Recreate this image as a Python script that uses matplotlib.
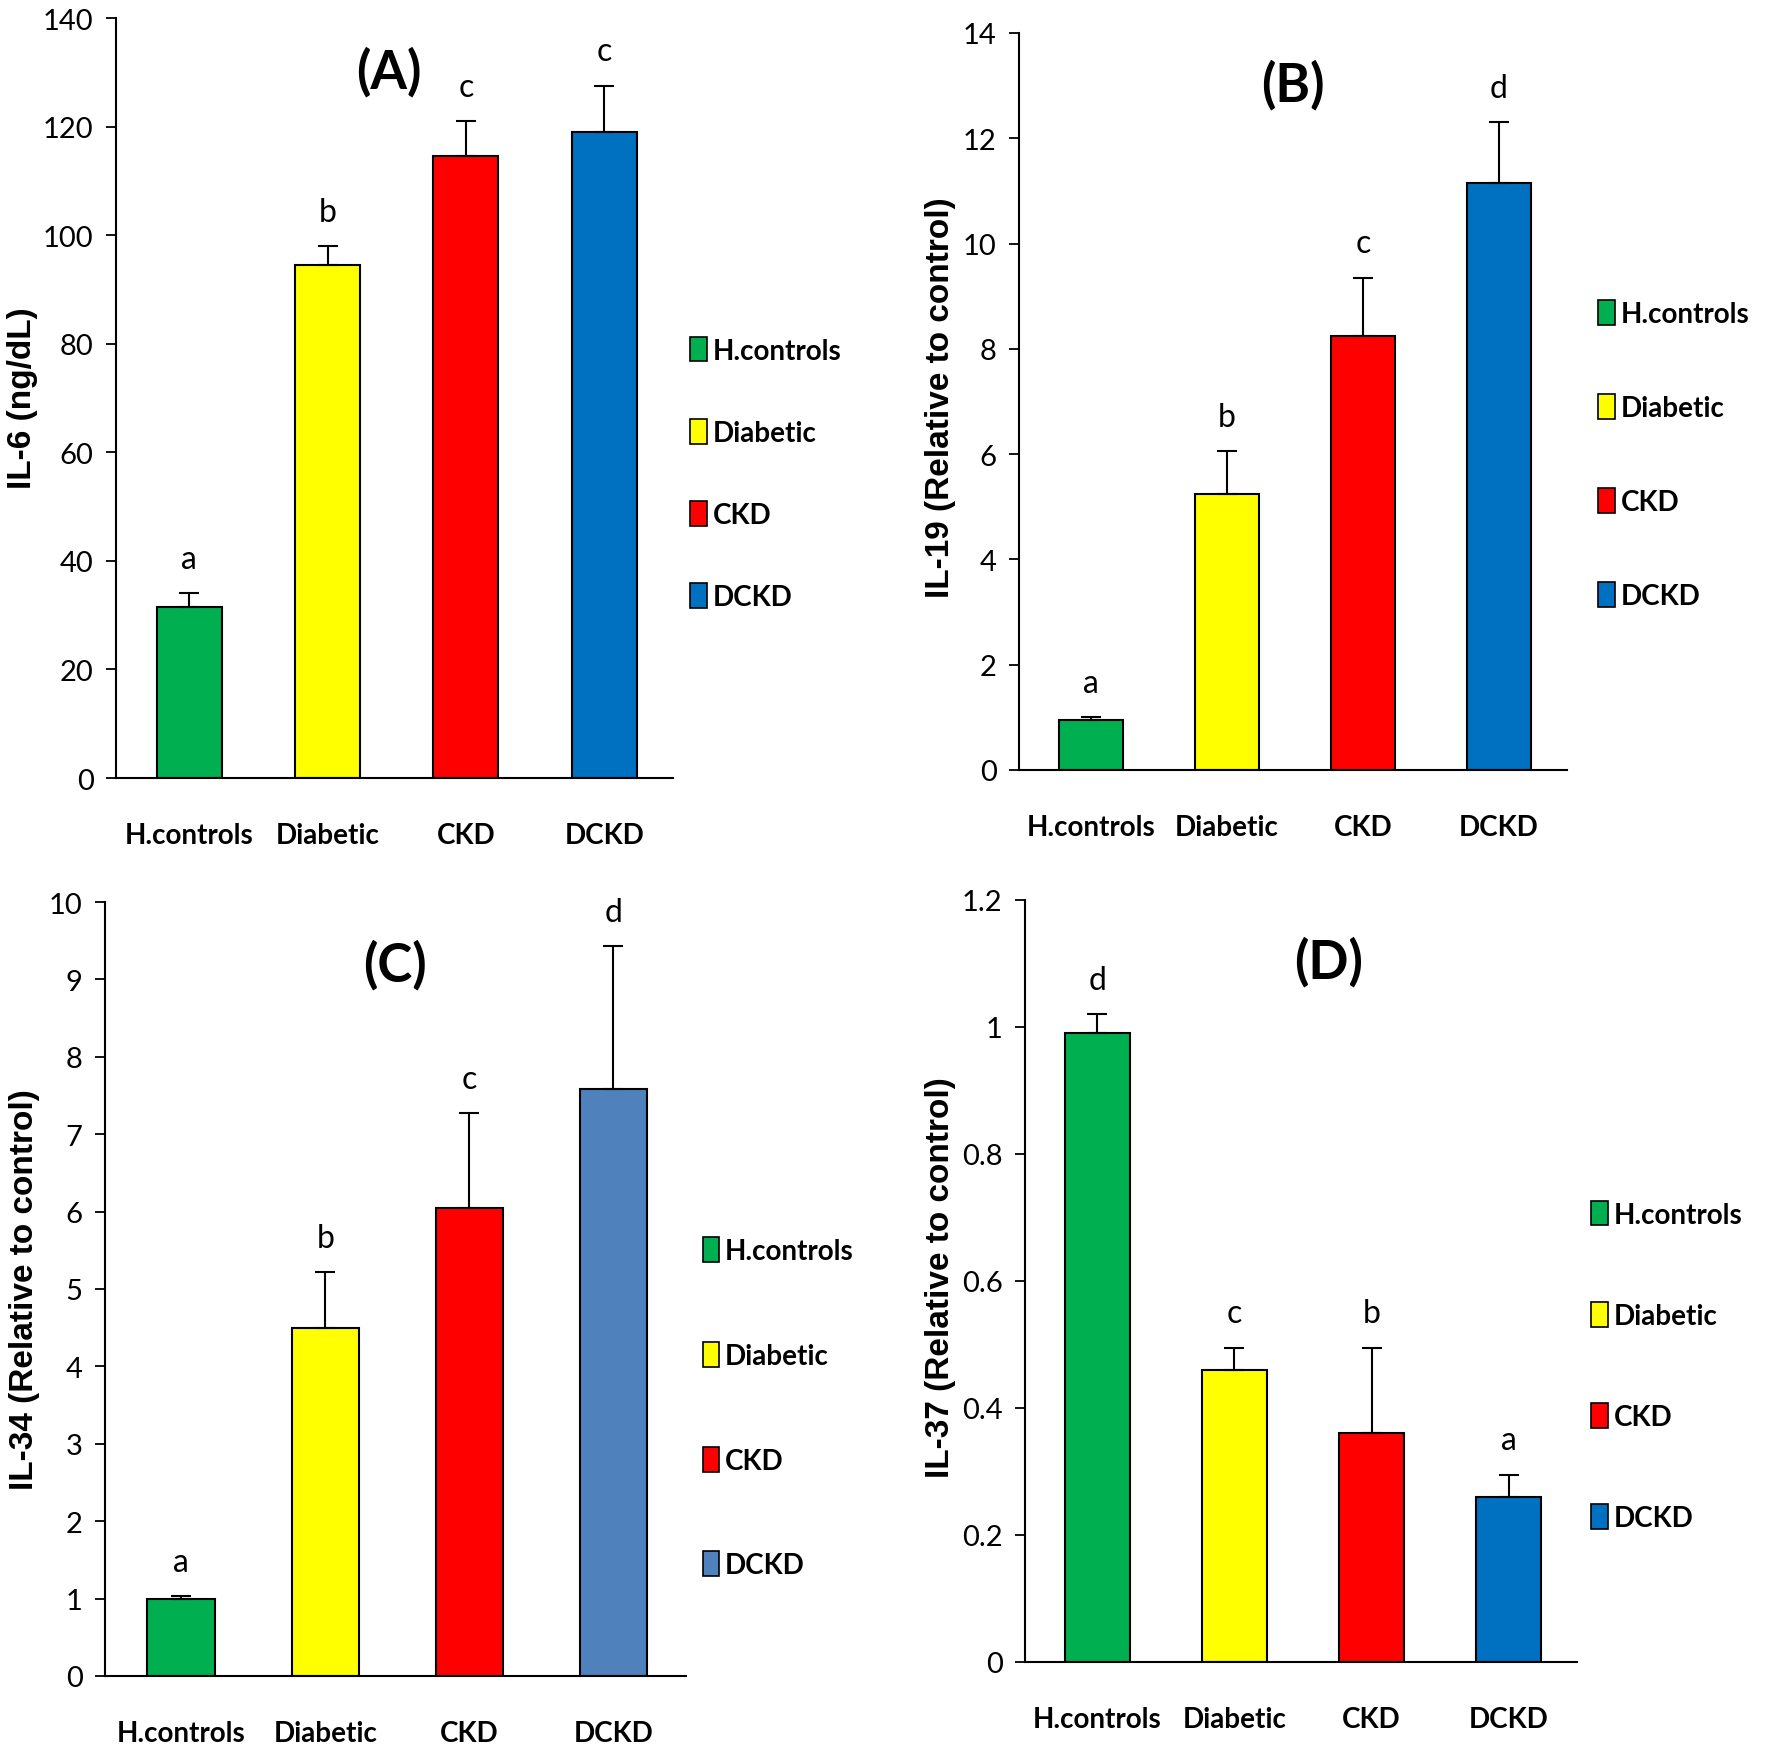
import matplotlib
matplotlib.use("Agg")
from matplotlib import pyplot as plt
from matplotlib.patches import Patch

# grupos e cores
grupos = ['H.controls', 'Diabetic', 'CKD', 'DCKD']
cores = ['#00b050', '#ffff00', '#ff0000', '#0070c0']
cores_c = ['#00b050', '#ffff00', '#ff0000', '#4f81bd']

# valores (média, erro, letra)
il6 = [31.5, 94.5, 114.5, 119.0]
il6_err = [2.5, 3.5, 6.5, 8.5]
il6_let = ['a', 'b', 'c', 'c']

il19 = [0.95, 5.25, 8.25, 11.15]
il19_err = [0.05, 0.8, 1.1, 1.15]
il19_let = ['a', 'b', 'c', 'd']

il34 = [1.0, 4.5, 6.05, 7.58]
il34_err = [0.03, 0.72, 1.22, 1.85]
il34_let = ['a', 'b', 'c', 'd']

il37 = [0.99, 0.46, 0.36, 0.26]
il37_err = [0.03, 0.035, 0.135, 0.035]
il37_let = ['d', 'c', 'b', 'a']

FONTE = ['Lato', 'DejaVu Sans']
plt.rcParams['font.family'] = FONTE


def plota_painel(ax, valores, erros, letras, cols, ymax, passo, titulo, tit_xy,
                 leg_xy, leg_esp):
    x = range(len(grupos))
    ax.bar(x, valores, width=0.47, color=cols, edgecolor='black', linewidth=1.5,
           zorder=2)
    ax.errorbar(x, valores, yerr=[[0] * 4, erros], fmt='none', ecolor='black',
                elinewidth=1.5, capsize=7, capthick=1.5, zorder=3)
    for xi, v, e, l in zip(x, valores, erros, letras):
        ax.annotate(l, (xi, v + e), xytext=(0, 14), textcoords='offset points',
                    ha='center', va='bottom', fontsize=23)

    ax.set_xlim(-0.53, 3.5)
    ax.set_ylim(0, ymax)
    ticks = [round(i * passo, 2) for i in range(int(round(ymax / passo)) + 1)]
    ax.set_yticks(ticks)
    ax.set_yticklabels(['%g' % t for t in ticks], fontsize=21)
    ax.set_xticks(list(x))
    ax.set_xticklabels(grupos, fontsize=20, fontweight='bold')
    ax.tick_params(axis='x', length=0, pad=32)
    ax.tick_params(axis='y', direction='out', length=7, width=1.3, pad=9)
    for s in ['top', 'right']:
        ax.spines[s].set_visible(False)
    for s in ['left', 'bottom']:
        ax.spines[s].set_linewidth(1.5)

    ax.text(tit_xy[0], tit_xy[1], titulo, transform=ax.transAxes, ha='center',
            va='center', fontsize=38, fontweight='bold')

    handles = [Patch(facecolor=c, edgecolor='black', linewidth=1.2) for c in cols]
    ax.legend(handles, grupos, loc='upper left', bbox_to_anchor=leg_xy,
              bbox_transform=ax.figure.transFigure, frameon=False,
              prop={'size': 20, 'weight': 'bold'}, handlelength=0.6,
              handleheight=1.0, handletextpad=0.2, borderpad=0,
              borderaxespad=0, labelspacing=leg_esp)


fig = plt.figure(figsize=(17.7, 17.49), dpi=100)

axA = fig.add_axes([0.0655, 0.5546, 0.315, 0.4345])
axB = fig.add_axes([0.5757, 0.5592, 0.3096, 0.4214])
axC = fig.add_axes([0.0593, 0.0412, 0.328, 0.4425])
axD = fig.add_axes([0.579, 0.0492, 0.312, 0.4357])

plota_painel(axA, il6, il6_err, il6_let, cores, 140, 20, '(A)', (0.49, 0.93),
             (0.390, 0.807), 1.99)
plota_painel(axB, il19, il19_err, il19_let, cores, 14, 2, '(B)', (0.50, 0.93),
             (0.903, 0.828), 2.42)
plota_painel(axC, il34, il34_err, il34_let, cores_c, 10, 1, '(C)', (0.50, 0.92),
             (0.397, 0.292), 2.8)
plota_painel(axD, il37, il37_err, il37_let, cores, 1.2, 0.2, '(D)', (0.55, 0.92),
             (0.899, 0.313), 2.67)

# rótulos do eixo y
rot = dict(rotation=90, ha='center', va='center', fontsize=24,
           fontweight='bold', family=['Liberation Sans', 'DejaVu Sans'])
fig.text(23 / 1770, 1 - 398 / 1749, 'IL-6 (ng/dL)', **rot)
fig.text(940 / 1770, 1 - 398 / 1749, 'IL-19 (Relative to control)', **rot)
fig.text(25 / 1770, 1 - 1290 / 1749, 'IL-34 (Relative to control)', **rot)
fig.text(940 / 1770, 1 - 1278 / 1749, 'IL-37 (Relative to control)', **rot)

fig.savefig('out.png', dpi=100)
